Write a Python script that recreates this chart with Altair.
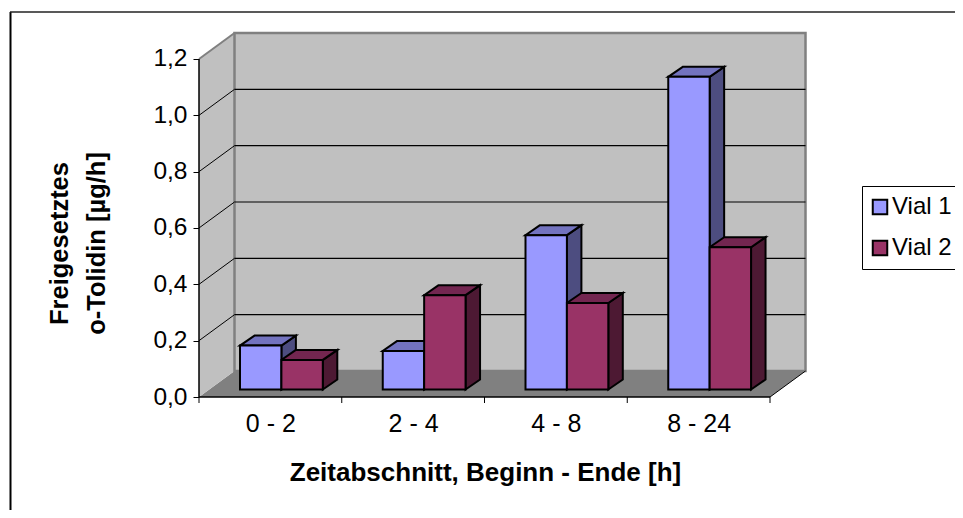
import altair as alt
import pandas as pd

categories = ["0 - 2", "2 - 4", "4 - 8", "8 - 24"]
vial_1 = [0.156, 0.137, 0.548, 1.11]
vial_2 = [0.105, 0.335, 0.307, 0.505]
y_ticks = [0.0, 0.2, 0.4, 0.6, 0.8, 1.0, 1.2]
series_names = ["Vial 1", "Vial 2"]
front_colors = ["#9999FF", "#993366"]
top_colors = ["#7373BF", "#732650"]
side_colors = ["#4D4D80", "#4D1933"]

W, H = 947, 502
CAT_PX = 142.75
UNIT_PX = 281.67
X0_ABS, Y0_ABS = 199, 397


def u(px):
    return px / CAT_PX


def v(px):
    return px / UNIT_PX


WALL_DX, WALL_DY = u(35.5), v(26)
BAR_DX, BAR_DY = u(14.5), v(10)
BAR_X0, BAR_W, BAR_BASE = u(41), u(41.4), v(7.5)
N = len(categories)
TOP = y_ticks[-1]

x_scale = alt.Scale(domain=[u(8 - X0_ABS), u(8 + W - X0_ABS)], nice=False, zero=False)
y_scale = alt.Scale(domain=[v(Y0_ABS - 8 - H), v(Y0_ABS - 8)], nice=False, zero=False)

x_axis = alt.Axis(
    values=[i + 0.5 for i in range(N)], offset=-(8 + H - Y0_ABS),
    labelExpr="['" + "','".join(categories) + "'][floor(datum.value)]",
    domain=False, ticks=False, grid=False, labelPadding=14,
    labelFontSize=25, labelFont="Liberation Sans", labelColor="#000000",
    title="Zeitabschnitt, Beginn - Ende [h]", titleFontSize=26,
    titleFont="Liberation Sans", titleFontWeight="bold", titleColor="#000000",
    titleAlign="center", titleBaseline="middle", titleX=485 - 8, titleY=75,
)
y_axis = alt.Axis(
    values=y_ticks, offset=-(X0_ABS - 8),
    labelExpr="replace(format(datum.value,'.1f'),'.',',')",
    domain=False, grid=False, tickSize=6, tickColor="#000000", tickWidth=1,
    labelPadding=6, labelFontSize=24.5, labelFont="Liberation Sans", labelColor="#000000",
    title=["Freigesetztes", "o-Tolidin [µg/h]"], titleFontSize=25.5, titleLineHeight=37,
    titleFont="Liberation Sans", titleFontWeight="bold", titleColor="#000000",
    titleAngle=-90, titleAlign="center", titleBaseline="middle",
    titleX=59 - 199, titleY=235,
)


def X(f):
    return alt.X(f, type="quantitative", scale=x_scale, axis=x_axis)


def Y(f):
    return alt.Y(f, type="quantitative", scale=y_scale, axis=y_axis)


def seg(rows, color="#000000", width=1.0):
    d = pd.DataFrame(rows, columns=["x", "x2", "y", "y2"])
    return alt.Chart(d).mark_rule(color=color, strokeWidth=width).encode(
        x=X("x"), x2="x2", y=Y("y"), y2="y2"
    )


back_wall = alt.Chart(
    pd.DataFrame([{"x": WALL_DX, "x2": N + WALL_DX, "y": WALL_DY, "y2": TOP + WALL_DY}])
).mark_rect(fill="#C0C0C0", stroke="#808080", strokeWidth=2.5).encode(
    x=X("x"), x2="x2", y=Y("y"), y2="y2"
)

left_wall = alt.Chart(
    pd.DataFrame([{"x": 0, "y": 0, "y2": TOP}, {"x": WALL_DX, "y": WALL_DY, "y2": TOP + WALL_DY}])
).mark_area(fill="#C0C0C0").encode(x=X("x"), y=Y("y"), y2="y2")

floor = alt.Chart(
    pd.DataFrame([{"y": 0, "x": 0, "x2": N}, {"y": WALL_DY, "x": WALL_DX, "x2": N + WALL_DX}])
).mark_area(fill="#808080", orient="horizontal").encode(x=X("x"), x2="x2", y=Y("y"))

inner = [t for t in y_ticks if 0 < t < TOP]
grid_back = seg([(WALL_DX, N + WALL_DX, t + WALL_DY, t + WALL_DY) for t in inner], width=1.2)
grid_left = seg([(0, WALL_DX, t, t + WALL_DY) for t in inner], width=1)
top_edge = seg([(0, WALL_DX, TOP, TOP + WALL_DY)], color="#808080", width=2)
right_diag = seg([(N, N + WALL_DX, 0, WALL_DY)], width=1)
x_line = seg([(0, N, 0, 0)], width=1.5)
y_line = seg([(0, 0, 0, TOP)], width=1.5)
x_tick_marks = seg([(i, i, 0, -v(6)) for i in range(N + 1)], width=1)

frame_left = seg([(u(10.5 - X0_ABS), u(10.5 - X0_ABS), v(Y0_ABS - 12), v(Y0_ABS - 8 - H))], width=2)
frame_top = seg([(u(10 - X0_ABS), u(8 + W - X0_ABS), v(Y0_ABS - 12), v(Y0_ABS - 12))], color="#222222", width=1.5)

side_rows, top_rows, front_rows = [], [], []
for s, (name, vals) in enumerate(zip(series_names, [vial_1, vial_2])):
    for i, val in enumerate(vals):
        x0 = i + BAR_X0 + s * BAR_W
        x1 = x0 + BAR_W
        b = BAR_BASE
        t = b + val
        bid = f"{s}-{i}"
        side_rows += [
            dict(s=s, id=bid, x=x1, y=b, y2=t, f=side_colors[s]),
            dict(s=s, id=bid, x=x1 + BAR_DX, y=b + BAR_DY, y2=t + BAR_DY, f=side_colors[s]),
        ]
        top_rows += [
            dict(s=s, id=bid, y=t, x=x0, x2=x1, f=top_colors[s]),
            dict(s=s, id=bid, y=t + BAR_DY, x=x0 + BAR_DX, x2=x1 + BAR_DX, f=top_colors[s]),
        ]
        front_rows.append(dict(series=name, x=x0, x2=x1, y=b, y2=t))
side_df, top_df, front_df = map(pd.DataFrame, (side_rows, top_rows, front_rows))
BAR_STROKE = 2


def side_layer(s):
    return alt.Chart(side_df[side_df.s == s]).mark_area(stroke="#000000", strokeWidth=BAR_STROKE).encode(
        x=X("x"), y=Y("y"), y2="y2",
        fill=alt.Fill("f:N", scale=None), detail="id:N",
    )


def top_layer(s):
    return alt.Chart(top_df[top_df.s == s]).mark_area(
        orient="horizontal", stroke="#000000", strokeWidth=BAR_STROKE
    ).encode(
        x=X("x"), x2="x2", y=Y("y"),
        fill=alt.Fill("f:N", scale=None), detail="id:N",
    )


fronts = alt.Chart(front_df).mark_rect(stroke="#000000", strokeWidth=BAR_STROKE).encode(
    x=X("x"), x2="x2", y=Y("y"), y2="y2",
    color=alt.Color(
        "series:N",
        scale=alt.Scale(domain=series_names, range=front_colors),
        legend=alt.Legend(
            title=None, orient="none", legendX=862 - 8, legendY=186 - 8,
            strokeColor="#000000", fillColor="#FFFFFF", padding=9,
            symbolType="square", symbolSize=210, symbolStrokeColor="#000000",
            symbolStrokeWidth=2, symbolOpacity=1, symbolOffset=-3,
            labelFontSize=24, labelFont="Liberation Sans", labelColor="#000000",
            rowPadding=17, labelOffset=0, labelLimit=200,
        ),
    ),
)

chart = alt.layer(
    frame_left, frame_top,
    floor, left_wall, back_wall, grid_back, grid_left, top_edge, right_diag,
    side_layer(0), top_layer(0), side_layer(1), top_layer(1), fronts,
    x_line, y_line, x_tick_marks,
).resolve_scale(x="shared", y="shared").properties(
    width=W, height=H, padding=0, autosize=alt.AutoSizeParams(type="none"),
    background="#FFFFFF",
).configure_view(stroke=None)

chart.save("out.html", embed_options={"renderer": "svg", "actions": False})
